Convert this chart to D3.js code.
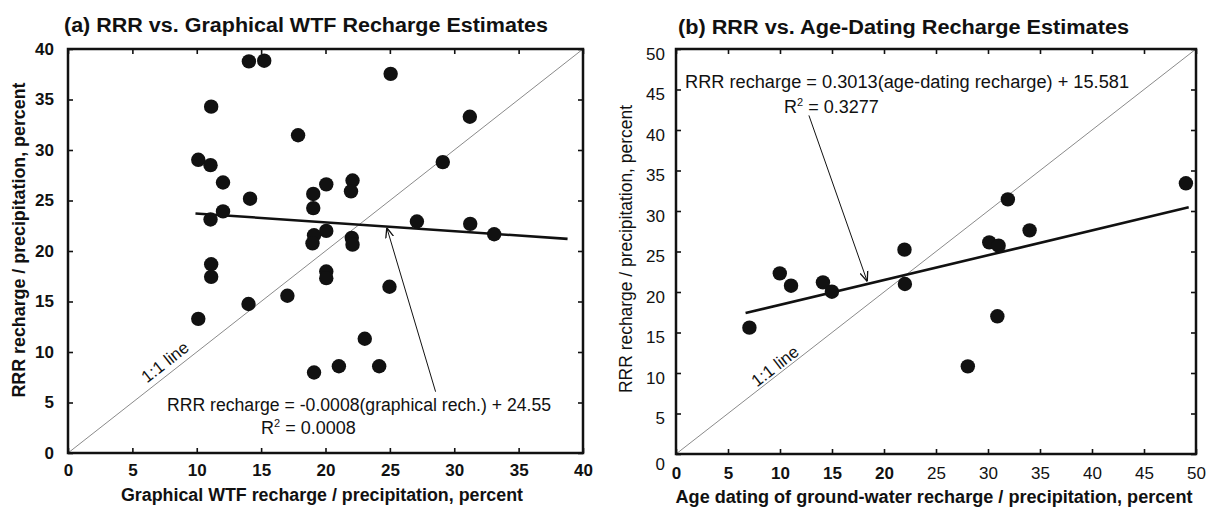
<!DOCTYPE html>
<html>
<head>
<meta charset="utf-8">
<script src="https://cdn.jsdelivr.net/npm/d3@7"></script>
<style>
  body { margin: 0; background: #fff; }
  text { font-family: "Liberation Sans", Arial, sans-serif; fill: #111; }
</style>
</head>
<body>
<script>
// panel (a) : RRR vs graphical WTF recharge
const wtfX = [14.05, 15.24, 25.06, 11.12, 31.21, 17.87, 10.12, 11.07, 29.11, 12.04,
              20.06, 22.1, 21.98, 19.05, 19.05, 14.14, 12.04, 11.07, 27.1, 31.24,
              33.1, 20.06, 19.11, 18.99, 22.04, 22.1, 11.12, 11.12, 20.06, 20.06,
              24.97, 17.04, 14.02, 10.12, 23.05, 21.04, 24.17, 19.11];
const wtfY = [38.77, 38.84, 37.54, 34.29, 33.29, 31.46, 29.03, 28.5, 28.8, 26.78,
              26.6, 26.98, 25.91, 25.65, 24.25, 25.18, 23.92, 23.12, 22.92, 22.69,
              21.66, 21.99, 21.56, 20.76, 21.3, 20.63, 18.69, 17.44, 17.97, 17.31,
              16.46, 15.57, 14.75, 13.28, 11.31, 8.59, 8.59, 7.97];
const fitAX = [9.9, 38.8];
const fitAY = [23.72, 21.2];
const ticksA = [0, 5, 10, 15, 20, 25, 30, 35, 40];

// panel (b) : RRR vs age-dating recharge
const ageX = [49.03, 31.91, 34.0, 30.12, 31.02, 21.97, 9.98, 11.06, 14.13, 14.99, 22.01, 7.06, 30.9, 28.06];
const ageY = [33.42, 31.44, 27.61, 26.13, 25.72, 25.23, 22.3, 20.78, 21.19, 20.04, 20.99, 15.6, 17.0, 10.82];
const fitBX = [6.69, 49.3];
const fitBY = [17.4, 30.45];
const ticksB = [0, 5, 10, 15, 20, 25, 30, 35, 40, 45, 50];

let width = 1207, height = 508;

let svg = d3.select('body')
  .append('svg')
  .attr('width', width)
  .attr('height', height);

// arrow head
svg.append('defs').append('marker')
  .attr('id', 'arrow')
  .attr('viewBox', '0 0 10 10')
  .attr('refX', 10).attr('refY', 5)
  .attr('markerWidth', 10).attr('markerHeight', 10)
  .attr('markerUnits', 'userSpaceOnUse')
  .attr('orient', 'auto')
  .append('path')
  .attr('d', 'M0,1 L10,5 L0,9')
  .attr('fill', 'none')
  .attr('stroke', '#111')
  .attr('stroke-width', 1.3);

function fitText(sel, w) {
  return sel.attr('textLength', w).attr('lengthAdjust', 'spacingAndGlyphs');
}

function drawPanel(p) {
  const x = d3.scaleLinear().domain(p.xDomain).range(p.xRange);
  const y = d3.scaleLinear().domain(p.yDomain).range(p.yRange);
  const g = svg.append('g');

  // 1:1 line
  g.append('line')
    .attr('x1', x(0)).attr('y1', y(0))
    .attr('x2', x(p.xDomain[1])).attr('y2', y(p.yDomain[1]))
    .attr('stroke', '#8a8a8a').attr('stroke-width', 1);

  // bottom / left axes with inside ticks
  const xAxis = g.append('g')
    .attr('transform', `translate(0,${p.yRange[0]})`)
    .call(d3.axisBottom(x).tickValues(p.ticks).tickSizeInner(-5).tickSizeOuter(0).tickPadding(p.xPad));
  const yAxis = g.append('g')
    .attr('transform', `translate(${p.xRange[0]},0)`)
    .call(d3.axisLeft(y).tickValues(p.yTicks).tickSizeInner(-5).tickSizeOuter(0).tickPadding(p.yPad));
  g.append('g')
    .attr('transform', `translate(0,${p.yRange[1]})`)
    .call(d3.axisTop(x).tickValues(p.ticks).tickSizeInner(-5).tickSizeOuter(0).tickFormat(''));
  g.append('g')
    .attr('transform', `translate(${p.xRange[1]},0)`)
    .call(d3.axisRight(y).tickValues(p.yTicks).tickSizeInner(-5).tickSizeOuter(0).tickFormat(''));

  g.selectAll('.domain').remove();
  g.selectAll('.tick line').attr('stroke', '#111').attr('stroke-width', 1.6);
  xAxis.selectAll('text')
    .style('font-size', '17px')
    .style('font-weight', d => p.xBold(d) ? 'bold' : 'normal');
  yAxis.selectAll('text')
    .style('font-size', '17px')
    .style('font-weight', p.yBold ? 'bold' : 'normal')
    .attr('dy', d => d === 0 ? p.yZeroDy : p.yDy);

  // frame
  g.append('rect')
    .attr('x', p.xRange[0]).attr('y', p.yRange[1])
    .attr('width', p.xRange[1] - p.xRange[0])
    .attr('height', p.yRange[0] - p.yRange[1])
    .attr('fill', 'none').attr('stroke', '#111').attr('stroke-width', 2.5);

  // regression line
  g.append('line')
    .attr('x1', x(p.fitX[0])).attr('y1', y(p.fitY[0]))
    .attr('x2', x(p.fitX[1])).attr('y2', y(p.fitY[1]))
    .attr('stroke', '#111').attr('stroke-width', 2.6);

  // points
  g.selectAll('circle')
    .data(p.px.map((v, i) => [v, p.py[i]]))
    .enter()
    .append('circle')
    .attr('cx', d => x(d[0]))
    .attr('cy', d => y(d[1]))
    .attr('r', 7.2)
    .attr('fill', '#111');

  // arrow from equation to the fit line
  g.append('line')
    .attr('x1', x(p.arrow[0])).attr('y1', y(p.arrow[1]))
    .attr('x2', x(p.arrow[2])).attr('y2', y(p.arrow[3]))
    .attr('stroke', '#111').attr('stroke-width', 1)
    .attr('marker-end', 'url(#arrow)');

  // equation text
  fitText(g.append('text')
    .attr('x', p.eq.x).attr('y', p.eq.y)
    .style('font-size', '18px')
    .text(p.eq.text), p.eq.w);
  const r2 = g.append('text')
    .attr('x', p.r2.x).attr('y', p.r2.y)
    .style('font-size', '18px');
  r2.append('tspan').text('R');
  r2.append('tspan').attr('dy', -7).style('font-size', '11px').text('2');
  r2.append('tspan').attr('dy', 7).text(' = ' + p.r2.text);

  // 1:1 label
  const ang = -Math.atan((y(0) - y(10)) / (x(10) - x(0))) * 180 / Math.PI;
  g.append('text')
    .attr('transform', `translate(${p.oneX},${p.oneY})rotate(${ang})`)
    .style('text-anchor', 'middle')
    .style('font-size', '17px')
    .attr('dy', '0.35em')
    .text('1:1 line');

  // title and axis labels
  fitText(g.append('text')
    .attr('x', p.title.x).attr('y', p.title.y)
    .style('font-size', '20px').style('font-weight', 'bold')
    .text(p.title.text), p.title.w);
  fitText(g.append('text')
    .attr('x', p.xLab.x).attr('y', p.xLab.y)
    .style('text-anchor', 'middle')
    .style('font-size', '18px').style('font-weight', 'bold')
    .text(p.xLab.text), p.xLab.w);
  fitText(g.append('text')
    .attr('transform', `translate(${p.yLab.x},${p.yLab.y})rotate(-90)`)
    .style('text-anchor', 'middle')
    .style('font-size', '18px').style('font-weight', p.yBold ? 'bold' : 'normal')
    .text('RRR recharge / precipitation, percent'), p.yLab.w);
}

drawPanel({
  xDomain: [0, 40], yDomain: [0, 40],
  xRange: [68, 583], yRange: [453, 49],
  ticks: ticksA, yTicks: ticksA,
  xPad: 11, yPad: 14, yDy: '0.32em', yZeroDy: '0.32em',
  xBold: d => true, yBold: true,
  px: wtfX, py: wtfY, fitX: fitAX, fitY: fitAY,
  arrow: [28.55, 6.07, 24.76, 22.3],
  eq: { x: 167, y: 411, w: 384, text: 'RRR recharge = -0.0008(graphical rech.) + 24.55' },
  r2: { x: 261, y: 434, text: '0.0008' },
  oneX: 165, oneY: 362,
  title: { x: 64, y: 32, w: 484, text: '(a) RRR vs. Graphical WTF Recharge Estimates' },
  xLab: { x: 322, y: 501, w: 402, text: 'Graphical WTF recharge / precipitation, percent' },
  yLab: { x: 25, y: 240, w: 315 }
});

drawPanel({
  xDomain: [0, 50], yDomain: [0, 50],
  xRange: [676, 1196], yRange: [454, 49],
  ticks: ticksB, yTicks: ticksB,
  xPad: 13, yPad: 11, yDy: '0.6em', yZeroDy: '0.9em',
  xBold: d => d <= 20, yBold: false,
  px: ageX, py: ageY, fitX: fitBX, fitY: fitBY,
  arrow: [12.78, 41.8, 18.39, 21.3],
  eq: { x: 685, y: 88, w: 444, text: 'RRR recharge = 0.3013(age-dating recharge) + 15.581' },
  r2: { x: 784, y: 113, text: '0.3277' },
  oneX: 775, oneY: 366,
  title: { x: 678, y: 34, w: 451, text: '(b) RRR vs. Age-Dating Recharge Estimates' },
  xLab: { x: 934, y: 503, w: 517, text: 'Age dating of ground-water recharge / precipitation, percent' },
  yLab: { x: 632, y: 249, w: 288 }
});
</script>
</body>
</html>
